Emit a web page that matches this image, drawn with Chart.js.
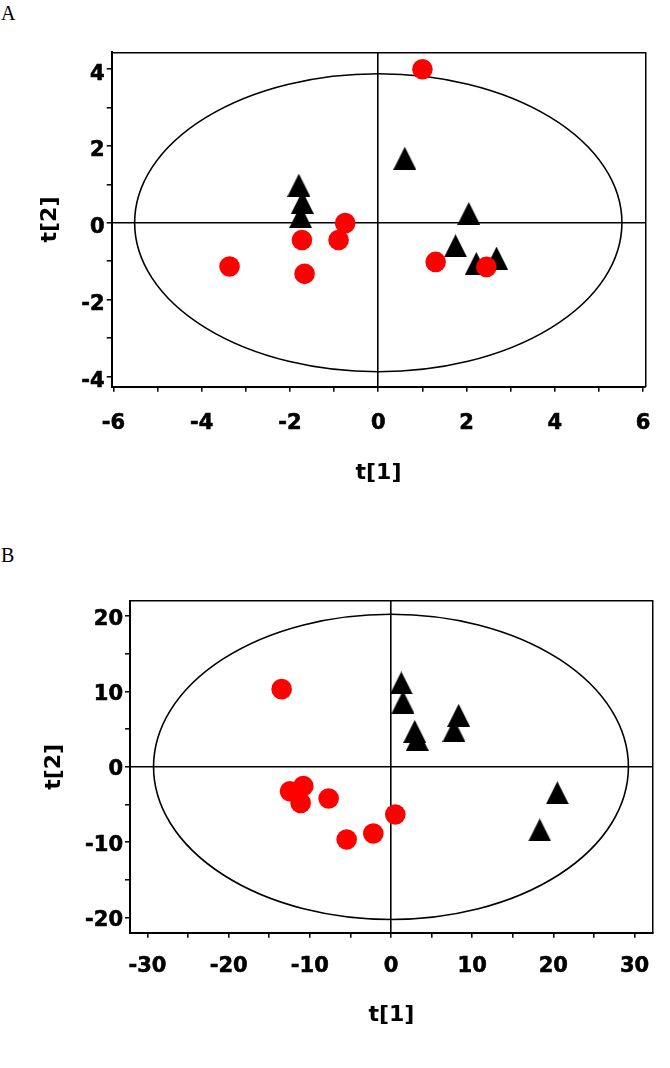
<!DOCTYPE html>
<html>
<head>
<meta charset="utf-8">
<script src="https://cdn.jsdelivr.net/npm/chart.js@4.4.1/dist/chart.umd.min.js"></script>
<style>
    html, body { margin: 0; padding: 0; background: #fff; }
    body { width: 670px; height: 1068px; position: relative; overflow: hidden; }
    .panel { position: absolute; left: 0; width: 670px; height: 534px; }
    .tag { position: absolute; left: 1px; font-family: "Liberation Serif", serif; font-size: 20px; line-height: 20px; color: #000; }
</style>
</head>
<body>
<div class="tag" style="top:3px">A</div>
<div class="tag" style="top:545px">B</div>
<div class="panel" style="top:0"><canvas id="chartA" width="670" height="534"></canvas></div>
<div class="panel" style="top:534px"><canvas id="chartB" width="670" height="534"></canvas></div>
<script>
// Panel A scores (t[1], t[2])
const aCircleX = [1.0, 1.3, 2.45, -3.37, -1.73, -1.67, -0.9, -0.75];
const aCircleY = [4.0, -1.02, -1.15, -1.14, -0.45, -1.33, -0.45, -0.01];
const aTriangleX = [-1.8, -1.72, -1.76, 0.6, 2.05, 1.75, 2.68, 2.22];
const aTriangleY = [0.98, 0.53, 0.16, 1.68, 0.24, -0.6, -0.92, -1.06];
const aEllipse = [5.52, 3.88]; // semi-axes of the confidence ellipse

// Panel B scores
const bCircleX = [-13.47, -12.44, -10.8, -11.13, -7.68, -5.46, -2.18, 0.53];
const bCircleY = [10.31, -3.23, -2.55, -4.78, -4.19, -9.64, -8.84, -6.32];
const bTriangleX = [1.27, 1.48, 2.92, 3.24, 8.34, 7.76, 20.49, 18.32];
const bTriangleY = [11.13, 8.6, 4.7, 3.64, 6.83, 4.83, -3.45, -8.37];
const bEllipse = [29.25, 20.25];

const axisTitleX = "t[1]";
const axisTitleY = "t[2]";

// Solid black triangle used as point style
function makeTriangle(w, h) {
    const c = document.createElement("canvas");
    c.width = w;
    c.height = h;
    const g = c.getContext("2d");
    g.fillStyle = "#000";
    g.beginPath();
    g.moveTo(0, h);
    g.lineTo(w / 2, 0);
    g.lineTo(w, h);
    g.closePath();
    g.fill();
    return c;
}
const triangle = makeTriangle(23, 23);

// Draws the T2 ellipse through the chart scales
const ellipsePlugin = {
    id: "ellipse",
    beforeDatasetsDraw(chart, args, opts) {
        const { ctx, scales } = chart;
        const cx = scales.x.getPixelForValue(0);
        const cy = scales.y.getPixelForValue(0);
        const rx = Math.abs(scales.x.getPixelForValue(opts.rx) - cx);
        const ry = Math.abs(scales.y.getPixelForValue(opts.ry) - cy);
        ctx.save();
        ctx.beginPath();
        ctx.ellipse(cx, cy, rx, ry, 0, 0, Math.PI * 2);
        ctx.lineWidth = 1.6;
        ctx.strokeStyle = "#000";
        ctx.stroke();
        ctx.restore();
    },
};

const toPoints = (xs, ys) => xs.map((x, i) => ({ x, y: ys[i] }));
const tickFont = { family: "DejaVu Sans", weight: "bold", size: 21 };
const titleFont = { family: "DejaVu Sans", weight: "bold", size: 22 };
const zeroLine = (ctx) => (ctx.tick && ctx.tick.value === 0 ? "#000" : "rgba(0,0,0,0)");

// Hidden frame axes (top / right) only draw their border
function frameAxis(position) {
    return {
        type: "linear",
        position,
        display: true,
        ticks: { display: false },
        grid: { display: false, drawTicks: false },
        border: { display: true, color: "#000", width: 1.5 },
        afterFit: (scale) => {
            if (position === "top") scale.height = 0;
            else scale.width = 0;
        },
    };
}

function makePlot(canvas, p) {
    return new Chart(canvas, {
        type: "scatter",
        data: {
            datasets: [
                {
                    label: "circles",
                    data: toPoints(p.circleX, p.circleY),
                    pointStyle: "circle",
                    pointRadius: 10.3,
                    backgroundColor: "#ff0000",
                    borderWidth: 0,
                    order: 0,
                },
                {
                    label: "triangles",
                    data: toPoints(p.triX, p.triY),
                    pointStyle: triangle,
                    pointRadius: 11.5,
                    backgroundColor: "#000",
                    borderWidth: 0,
                    order: 1,
                },
            ],
        },
        options: {
            responsive: false,
            animation: false,
            devicePixelRatio: 1,
            layout: { padding: { left: 0, right: p.padRight, top: p.padTop, bottom: 0 } },
            scales: {
                x: {
                    type: "linear",
                    position: "bottom",
                    min: p.xMin,
                    max: p.xMax,
                    ticks: {
                        stepSize: p.xStep,
                        includeBounds: false,
                        autoSkip: false,
                        maxRotation: 0,
                        color: "#000",
                        textStrokeColor: "#000",
                        textStrokeWidth: 0.6,
                        font: tickFont,
                        padding: p.xTickPad,
                        callback: (v) => (v % p.xLabelEvery === 0 ? String(v) : ""),
                    },
                    grid: { color: zeroLine, lineWidth: 1.6, tickColor: "#000", tickLength: 5, tickWidth: 1.5 },
                    border: { display: true, color: "#000", width: 2 },
                    title: { display: true, text: axisTitleX, color: "#000", font: titleFont, padding: { top: 0, bottom: p.xTitlePad } },
                    afterFit: (scale) => { scale.height = p.xAxisHeight; },
                },
                y: {
                    type: "linear",
                    position: "left",
                    min: p.yMin,
                    max: p.yMax,
                    ticks: {
                        stepSize: p.yStep,
                        includeBounds: false,
                        autoSkip: false,
                        color: "#000",
                        textStrokeColor: "#000",
                        textStrokeWidth: 0.6,
                        font: tickFont,
                        padding: 2,
                        labelOffset: p.yLabelOffset,
                        callback: (v) => (v % p.yLabelEvery === 0 ? String(v) : ""),
                    },
                    grid: { color: zeroLine, lineWidth: 1.6, tickColor: "#000", tickLength: 5, tickWidth: 1.5 },
                    border: { display: true, color: "#000", width: 2 },
                    title: { display: true, text: axisTitleY, color: "#000", font: titleFont, padding: { top: p.yTitlePad, bottom: 0 } },
                    afterFit: (scale) => { scale.width = p.yAxisWidth; },
                },
                xTop: frameAxis("top"),
                yRight: frameAxis("right"),
            },
            plugins: {
                legend: { display: false },
                tooltip: { enabled: false },
                ellipse: { rx: p.ellipse[0], ry: p.ellipse[1] },
            },
        },
        plugins: [ellipsePlugin],
    });
}

makePlot(document.querySelector("#chartA"), {
    circleX: aCircleX, circleY: aCircleY, triX: aTriangleX, triY: aTriangleY, ellipse: aEllipse,
    xMin: -6.04, xMax: 6.05, xStep: 1, xLabelEvery: 2,
    yMin: -4.27, yMax: 4.44, yStep: 1, yLabelEvery: 2,
    padTop: 52.3, padRight: 17.3,
    yAxisWidth: 111.7, xAxisHeight: 147.3,
    xTickPad: 19.5, xTitlePad: 47.5, yTitlePad: 37, yLabelOffset: 5,
});

makePlot(document.querySelector("#chartB"), {
    circleX: bCircleX, circleY: bCircleY, triX: bTriangleX, triY: bTriangleY, ellipse: bEllipse,
    xMin: -32.15, xMax: 32.24, xStep: 5, xLabelEvery: 10,
    yMin: -22, yMax: 22, yStep: 5, yLabelEvery: 10,
    padTop: 67, padRight: 17.3,
    yAxisWidth: 130, xAxisHeight: 135.3,
    xTickPad: 16.5, xTitlePad: 39.5, yTitlePad: 41, yLabelOffset: 3,
});
</script>
</body>
</html>
